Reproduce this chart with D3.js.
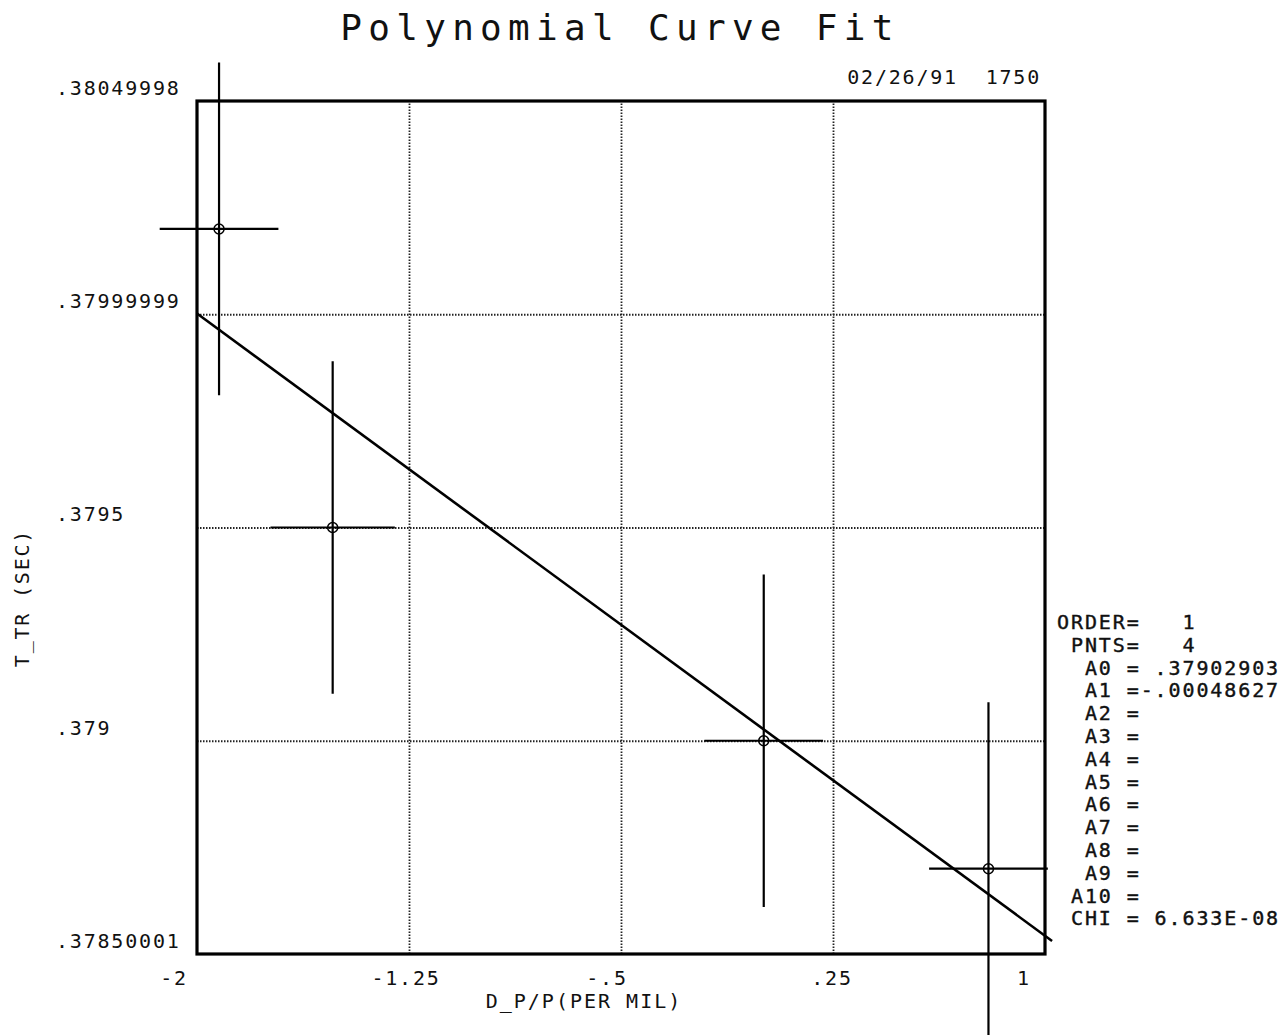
<!DOCTYPE html>
<html>
<head>
<meta charset="utf-8">
<script src="https://cdn.jsdelivr.net/npm/d3@7"></script>
<style>
  html, body { margin: 0; padding: 0; background: #fff; }
  text { font-family: "DejaVu Sans Mono", "Liberation Mono", monospace; fill: #111; white-space: pre; }
</style>
</head>
<body>
<svg id="chart" width="1288" height="1036"></svg>
<script>
// ---- data ----
const title = "Polynomial Curve Fit";
const stamp = "02/26/91  1750";
const xLabel = "D_P/P(PER MIL)";
const yLabel = "T_TR (SEC)";
const xTicks = [-2, -1.25, -0.5, 0.25, 1];
const xTickLabels = ["-2", "-1.25", "-.5", ".25", "1"];
const yTicks = [0.37850001, 0.379, 0.3795, 0.37999999, 0.38049998];
const yTickLabels = [".37850001", ".379", ".3795", ".37999999", ".38049998"];
const pointX = [-1.922, -1.52, 0.005, 0.80];
const pointY = [0.3802, 0.3795, 0.3790, 0.3787];
const errX = [0.21, 0.22, 0.21, 0.21];
const errY = [0.00039, 0.00039, 0.00039, 0.00039];
const fitCoeffs = [0.37902903, -0.00048627];
const fitRange = [-2, 1.025];
const infoLines = [
  "ORDER=   1",
  " PNTS=   4",
  "  A0 = .37902903",
  "  A1 =-.00048627",
  "  A2 =",
  "  A3 =",
  "  A4 =",
  "  A5 =",
  "  A6 =",
  "  A7 =",
  "  A8 =",
  "  A9 =",
  " A10 =",
  " CHI = 6.633E-08"
];

// ---- layout ----
const L = 197, R = 1045, T = 101, B = 954;
const svg = d3.select("#chart");
const x = d3.scaleLinear().domain([-2, 1]).range([L, R]);
const y = d3.scaleLinear().domain([yTicks[0], yTicks[yTicks.length - 1]]).range([B, T]);

// grid lines (dotted)
const gx = d3.axisBottom(x).tickValues(xTicks.slice(1, -1)).tickSize(-(B - T)).tickFormat("");
svg.append("g").attr("transform", `translate(0,${B})`).call(gx)
  .call(g => g.select(".domain").remove())
  .call(g => g.selectAll("line").attr("stroke", "#222").attr("stroke-width", 1.8).attr("stroke-dasharray", "1.5,1.5"));
const gy = d3.axisLeft(y).tickValues(yTicks.slice(1, -1)).tickSize(-(R - L)).tickFormat("");
svg.append("g").attr("transform", `translate(${L},0)`).call(gy)
  .call(g => g.select(".domain").remove())
  .call(g => g.selectAll("line").attr("stroke", "#222").attr("stroke-width", 1.8).attr("stroke-dasharray", "1.5,1.5"));

// frame
svg.append("rect").attr("x", L).attr("y", T).attr("width", R - L).attr("height", B - T)
  .attr("fill", "none").attr("stroke", "#000").attr("stroke-width", 3.2);

// tick labels
const FS = 20, LS = 1.8;
const xDx = [-23, -3, -14, -1, -21];
svg.append("g").selectAll("text").data(xTicks).join("text")
  .attr("x", (d, i) => x(d) + xDx[i]).attr("y", B + 31)
  .attr("text-anchor", "middle").attr("font-size", FS).attr("letter-spacing", LS)
  .text((d, i) => xTickLabels[i]);
svg.append("g").selectAll("text").data(yTicks).join("text")
  .attr("x", 56).attr("y", d => y(d) - 6)
  .attr("font-size", FS).attr("letter-spacing", LS)
  .text((d, i) => yTickLabels[i]);

// titles
svg.append("text").attr("x", 620).attr("y", 40).attr("text-anchor", "middle")
  .attr("font-size", 36).attr("letter-spacing", 6.3).attr("fill", "#222").text(title);
svg.append("text").attr("x", 1041).attr("y", 84).attr("text-anchor", "end")
  .attr("font-size", FS).attr("letter-spacing", LS).text(stamp);
svg.append("text").attr("x", 584).attr("y", 1008).attr("text-anchor", "middle")
  .attr("font-size", FS).attr("letter-spacing", 2).text(xLabel);
svg.append("text").attr("transform", "translate(29,598) rotate(-90)").attr("text-anchor", "middle")
  .attr("font-size", FS).attr("letter-spacing", LS).text(yLabel);

// info panel
svg.append("g").selectAll("text").data(infoLines).join("text")
  .attr("x", 1057).attr("y", (d, i) => 629 + i * 22.8)
  .attr("font-size", FS).attr("letter-spacing", 1.9)
  .attr("stroke", "#111").attr("stroke-width", 0.4)
  .text(d => d);

// fit line
const fit = v => fitCoeffs.reduce((s, c, k) => s + c * Math.pow(v, k), 0);
svg.append("line")
  .attr("x1", x(fitRange[0])).attr("y1", y(fit(fitRange[0])))
  .attr("x2", x(fitRange[1])).attr("y2", y(fit(fitRange[1])))
  .attr("stroke", "#000").attr("stroke-width", 2.6);

// error bars and points
const pts = pointX.map((v, i) => ({ x: v, y: pointY[i], ex: errX[i], ey: errY[i] }));
const eg = svg.append("g").attr("stroke", "#000").attr("stroke-width", 2.2);
eg.selectAll(".ev").data(pts).join("line").attr("class", "ev")
  .attr("x1", d => x(d.x)).attr("x2", d => x(d.x))
  .attr("y1", d => y(d.y + d.ey)).attr("y2", d => y(d.y - d.ey));
eg.selectAll(".eh").data(pts).join("line").attr("class", "eh")
  .attr("x1", d => x(d.x - d.ex)).attr("x2", d => x(d.x + d.ex))
  .attr("y1", d => y(d.y)).attr("y2", d => y(d.y));
eg.selectAll("circle").data(pts).join("circle")
  .attr("cx", d => x(d.x)).attr("cy", d => y(d.y)).attr("r", 5)
  .attr("fill", "none").attr("stroke-width", 1.5);
</script>
</body>
</html>
